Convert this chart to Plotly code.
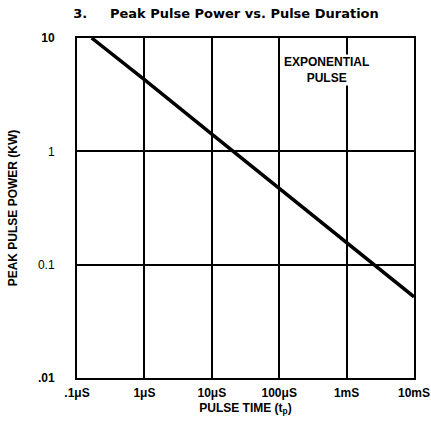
import plotly.graph_objects as go

# pulse duration (seconds) and peak pulse power (kW)
pulse_time = [1.65e-7, 1e-6, 1e-5, 1e-4, 1e-3, 1e-2]
peak_power = [10, 4.3, 1.42, 0.47, 0.155, 0.052]

x_tickvals = [1e-7, 1e-6, 1e-5, 1e-4, 1e-3, 1e-2]
x_ticktext = ["<b>.1\u03bcS</b>", "<b>1\u03bcS</b>", "<b>10\u03bcS</b>",
              "<b>100\u03bcS</b>", "<b>1mS</b>", "<b>10mS</b>"]
y_tickvals = [0.01, 0.1, 1, 10]
y_ticktext = ["<b>.01</b>", "0.1", "1", "<b>10</b>"]

font = "Liberation Sans"

fig = go.Figure()
fig.add_trace(go.Scatter(x=pulse_time, y=peak_power, mode="lines",
                         line=dict(color="black", width=3.5),
                         showlegend=False, hoverinfo="skip"))

fig.add_annotation(x=-3.30, y=0.72, xref="x", yref="y",
                   text="<b>EXPONENTIAL<br>PULSE</b>", showarrow=False,
                   font=dict(family=font, size=12, color="black"),
                   bgcolor="white", borderpad=0)

fig.update_xaxes(type="log", range=[-7, -2], tickvals=x_tickvals, ticktext=x_ticktext,
                 showgrid=True, gridcolor="black", gridwidth=2,
                 showline=True, linecolor="black", linewidth=2, mirror=True,
                 ticks="", zeroline=False, ticklabelstandoff=3, automargin=False,
                 tickfont=dict(family=font, size=12, color="black"),
                 title=dict(text="<b>PULSE TIME (t<sub>p</sub>)</b>", standoff=4,
                            font=dict(family=font, size=12, color="black")))
fig.update_yaxes(type="log", range=[-2, 1], tickvals=y_tickvals, ticktext=y_ticktext,
                 showgrid=True, gridcolor="black", gridwidth=2,
                 showline=True, linecolor="black", linewidth=2, mirror=True,
                 ticks="", zeroline=False, ticklabelstandoff=18, automargin=False,
                 tickfont=dict(family=font, size=12, color="black"),
                 title=dict(text="<b>PEAK PULSE POWER (KW)</b>", standoff=18,
                            font=dict(family=font, size=12, color="black")))

fig.update_layout(
    width=431, height=423,
    margin=dict(l=77, r=17, t=38, b=45),
    plot_bgcolor="white", paper_bgcolor="white",
    title=dict(text="<b>3.     Peak Pulse Power vs. Pulse Duration</b>",
               x=0.17, xanchor="left", y=0.98, yanchor="top",
               font=dict(family="DejaVu Sans", size=13, color="black")),
)

fig.write_html("out.html", config={"displayModeBar": False},
               post_script="document.body.style.margin='0';")
